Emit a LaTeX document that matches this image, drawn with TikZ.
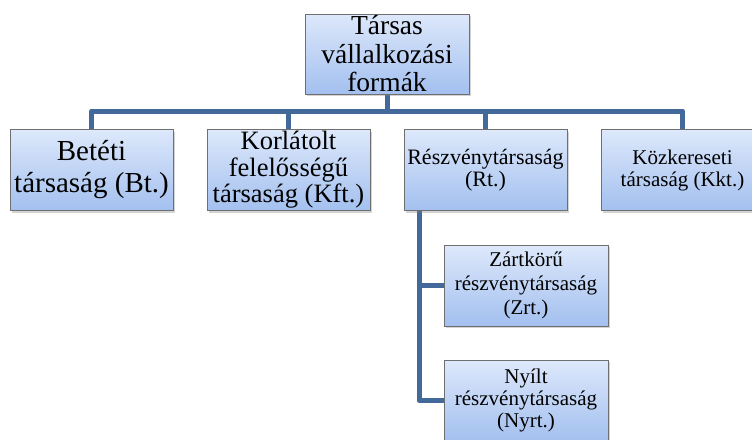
\documentclass[tikz,border=0pt]{standalone}
\usepackage{fontspec}
\setmainfont{Liberation Serif}
\usepackage{tikz}
\usetikzlibrary{backgrounds,calc,shadows}
\definecolor{boxtop}{HTML}{DDE8FB}
\definecolor{boxbottom}{HTML}{A3C0EF}
\definecolor{boxline}{HTML}{6F6F6F}
\definecolor{linkblue}{HTML}{43699B}

\begin{document}
\begin{tikzpicture}[x=1pt,y=-1pt,
  box/.style={draw=boxline,line width=0.8pt,top color=boxtop,bottom color=boxbottom,
    minimum width=163pt,minimum height=81pt,inner sep=0pt,align=center,
    drop shadow={shadow xshift=1.5pt,shadow yshift=-2pt,opacity=0.35}},
  link/.style={draw=linkblue,line width=5pt,line join=round}]
\clip (0,0) rectangle (752,439);
\node[box,minimum width=164pt,minimum height=80pt,font=\fontsize{27.5}{28.5}\selectfont] (forms) at (387,54)
  {Társas\\vállalkozási\\formák};
\node[box,font=\fontsize{29}{32}\selectfont] (bt) at (91.5,170) {Betéti\\társaság (Bt.)};
\node[box,font=\fontsize{26.5}{26.5}\selectfont] (kft) at (288.5,170) {Korlátolt\\felelősségű\\társaság (Kft.)};
\node[box,font=\fontsize{22}{22}\selectfont] (rt) at (485.5,170) {Részvénytársaság\\(Rt.)};
\node[box,font=\fontsize{21}{22}\selectfont] (kkt) at (682.5,170) {Közkereseti\\társaság (Kkt.)};
\node[box,minimum width=164pt,font=\fontsize{21}{24}\selectfont] (zrt) at (526,285.5) {Zártkörű\\részvénytársaság\\(Zrt.)};
\node[box,minimum width=164pt,font=\fontsize{21}{22}\selectfont] (nyrt) at (526,400.5) {Nyílt\\részvénytársaság\\(Nyrt.)};
\coordinate (bus) at (0,111);
\coordinate (spine) at (419,0);
\begin{scope}[on background layer]
\draw[link] (bt.north) -- (bt.north |- bus) -- (kkt.north |- bus) -- (kkt.north);
\draw[link] (forms.south) -- (forms.south |- bus);
\draw[link] (kft.north) -- (kft.north |- bus);
\draw[link] (rt.north) -- (rt.north |- bus);
\draw[link] (rt.south -| spine) |- (zrt.west);
\draw[link] (rt.south -| spine) |- (nyrt.west);
\end{scope}
\end{tikzpicture}
\end{document}
